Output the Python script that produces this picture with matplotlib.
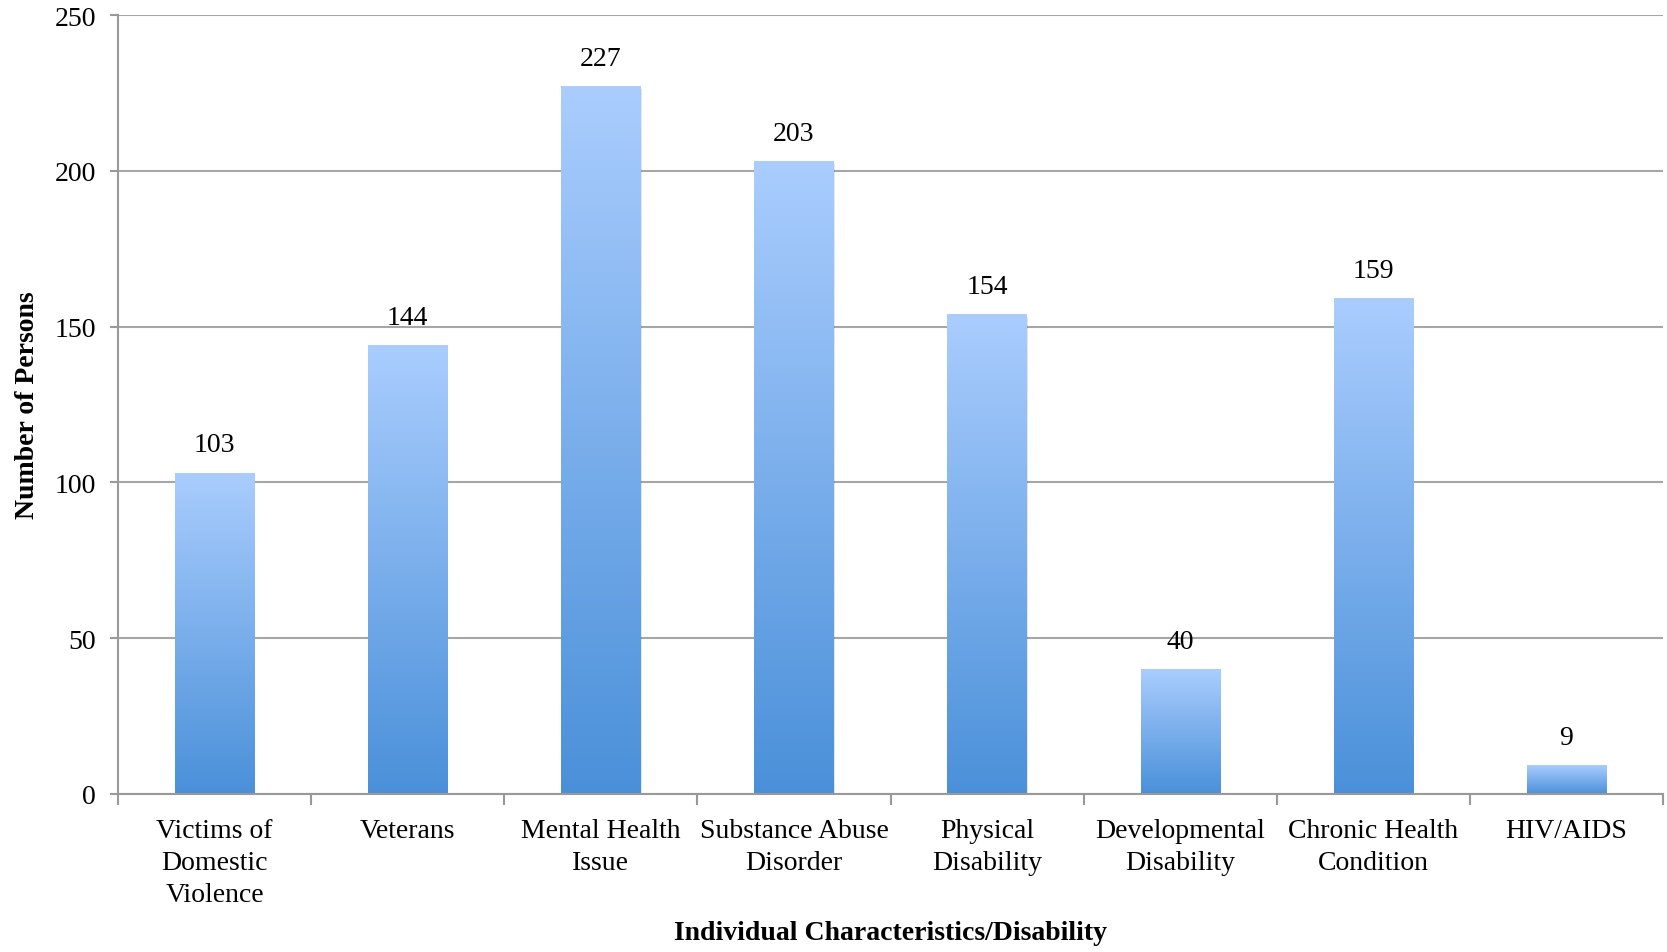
import numpy as np
import matplotlib.pyplot as plt
from matplotlib.colors import LinearSegmentedColormap

# --- データ ---
categories = ['Victims of\nDomestic\nViolence', 'Veterans', 'Mental Health\nIssue',
              'Substance Abuse\nDisorder', 'Physical\nDisability', 'Developmental\nDisability',
              'Chronic Health\nCondition', 'HIV/AIDS']
persons = [103, 144, 227, 203, 154, 40, 159, 9]
y_ticks = [0, 50, 100, 150, 200, 250]

plt.rcParams['font.family'] = ['Liberation Serif', 'DejaVu Serif']

fig = plt.figure(figsize=(16.67, 9.53), dpi=100)
ax = fig.add_axes([0.0708, 0.1658, 0.9268, 0.8174])

x = np.arange(len(categories))
bar_w = 0.41
cmap = LinearSegmentedColormap.from_list('bar', ['#4a90d9', '#aacdfe'])
grad = np.linspace(0, 1, 256).reshape(-1, 1)

for xi, v in zip(x, persons):
    # 影
    ax.bar(xi + 0.006, v, width=bar_w, bottom=-0.8, color='#000000', alpha=0.10, zorder=2)
    ax.imshow(grad, cmap=cmap, origin='lower', aspect='auto',
              extent=[xi - bar_w / 2, xi + bar_w / 2, 0, v], zorder=3)
    ax.text(xi, v + 5, str(v), ha='center', va='bottom', fontsize=20)

ax.set_xlim(-0.5, len(categories) - 0.5)
ax.set_ylim(0, 250)
ax.set_yticks(y_ticks)
ax.tick_params(axis='y', labelsize=20, length=6, color='#999999', width=1.5, pad=10)

ax.set_xticks(x)
ax.set_xticklabels(categories, fontsize=20, linespacing=1.38)
ax.tick_params(axis='x', which='major', length=0, pad=17)
ax.set_xticks(np.arange(len(categories) + 1) - 0.5, minor=True)
ax.tick_params(axis='x', which='minor', length=8, color='#999999', width=1.5)

ax.grid(axis='y', color='#a6a6a6', linewidth=1.5, zorder=0)
ax.set_axisbelow(True)
for s in ['top', 'right']:
    ax.spines[s].set_visible(False)
for s in ['left', 'bottom']:
    ax.spines[s].set_color('#999999')
    ax.spines[s].set_linewidth(1.5)
    ax.spines[s].set_zorder(4)

ax.set_xlabel('Individual Characteristics/Disability', fontsize=20, fontweight='bold', labelpad=9)
ax.set_ylabel('Number of Persons', fontsize=20, fontweight='bold', labelpad=10)

fig.savefig('out.png', dpi=100)
